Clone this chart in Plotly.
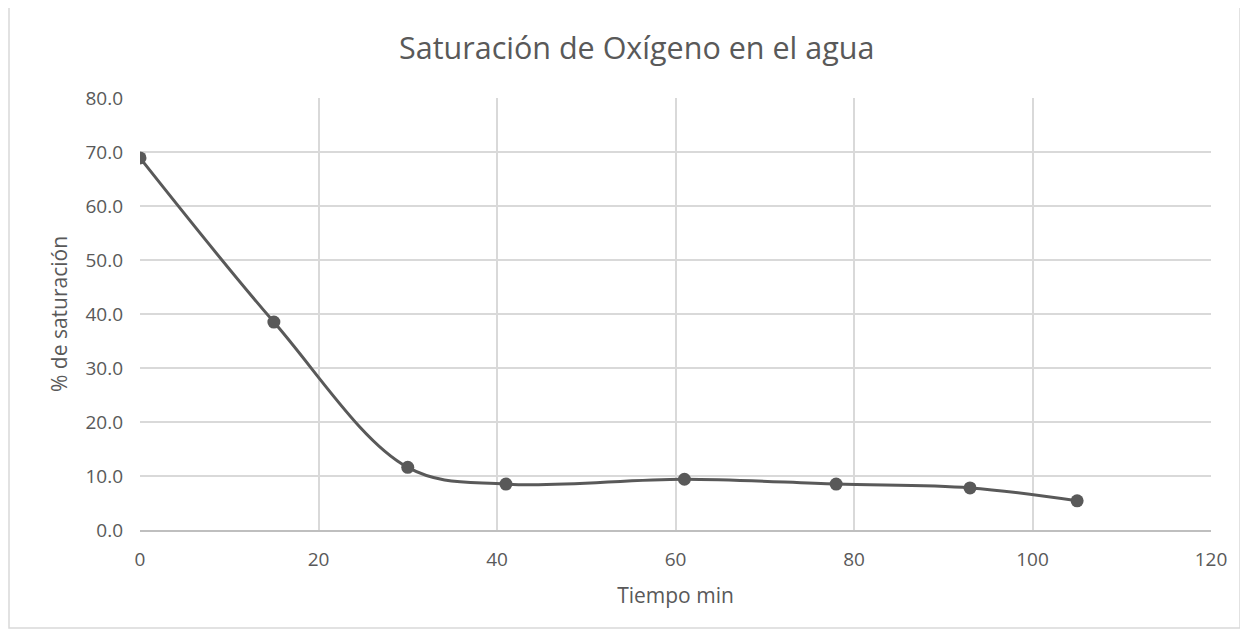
import plotly.graph_objects as go

tiempo = [0, 15, 30, 41, 61, 78, 93, 105]
saturacion = [68.9, 38.5, 11.6, 8.5, 9.4, 8.5, 7.8, 5.4]

gris = '#595959'
fuente = 'Open Sans'

fig = go.Figure()
fig.add_trace(go.Scatter(
    x=tiempo, y=saturacion, mode='lines+markers',
    line=dict(color=gris, width=3, shape='spline', smoothing=1),
    marker=dict(color=gris, size=13),
    showlegend=False))

# la pagina tiene 8px de margen en el body
fig.update_layout(
    width=1240, height=626,
    paper_bgcolor='white', plot_bgcolor='white',
    margin=dict(l=132, r=37, t=90, b=104),
    title=dict(text='Saturación de Oxígeno en el agua', x=0.507, xanchor='center',
               y=0.935, yanchor='middle',
               font=dict(family=fuente, size=30.5, color=gris)),
    font=dict(family=fuente, color=gris, size=19),
    xaxis=dict(range=[0, 120], dtick=20, showgrid=True, gridcolor='#d9d9d9', gridwidth=1.5,
               zeroline=False, showline=True, linecolor='#bfbfbf', linewidth=1.5,
               ticklabelstandoff=11,
               title=dict(text='Tiempo min', font=dict(size=21, color=gris), standoff=18)),
    yaxis=dict(range=[0, 80], dtick=10, tickformat='.1f', showgrid=True, gridcolor='#d9d9d9',
               gridwidth=1.5, zeroline=False, showline=False,
               ticklabelstandoff=16,
               title=dict(text='% de saturación', font=dict(size=21, color=gris), standoff=12)),
    shapes=[dict(type='rect', xref='paper', yref='paper',
                 x0=-131 / 1071, x1=1 + 29 / 1071, y0=-98 / 432, y1=1 + 91 / 432,
                 line=dict(color='#d9d9d9', width=1.5), layer='below')],
)

fig.write_html('out.html')
